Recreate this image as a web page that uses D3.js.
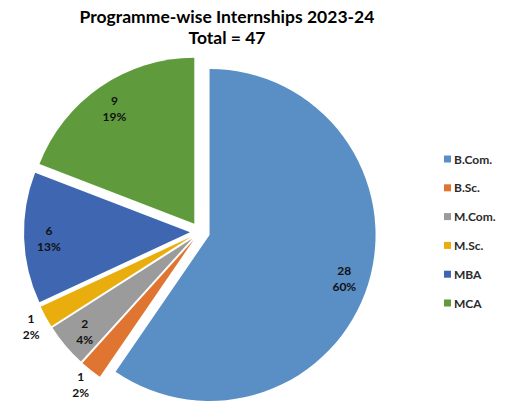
<!DOCTYPE html>
<html><head><meta charset="utf-8">
<script src="https://cdn.jsdelivr.net/npm/d3@7"></script>
<style>body{margin:0;background:#fff;} svg{display:block;}</style>
</head><body>
<svg id="chart" width="506" height="408"></svg>
<script>
const categories = ["B.Com.", "B.Sc.", "M.Com.", "M.Sc.", "MBA", "MCA"];
const values = [28, 1, 2, 1, 6, 9];
const percentLabels = ["60%", "2%", "4%", "2%", "13%", "19%"];
const colors = ["#5A8FC6", "#DF7531", "#9B9B9B", "#E9AE0E", "#3F66B0", "#5F9B3D"];
const titleLines = ["Programme-wise Internships 2023-24", "Total = 47"];

const svg = d3.select("#chart");
const font = "Lato, 'Open Sans', sans-serif";

svg.selectAll("text.title").data(titleLines).join("text")
  .attr("class", "title")
  .attr("x", 227).attr("y", (d, i) => 23 + i * 21)
  .attr("text-anchor", "middle")
  .style("font-family", font).style("font-weight", "bold").style("font-size", "17.5px")
  .attr("fill", "#000").text(d => d);

const cx = 200, cy = 232, r = 166, explode = 10;
const pie = d3.pie().sort(null).value(d => d)(values);
const arc = d3.arc().innerRadius(0).outerRadius(r);

const g = svg.append("g").attr("transform", `translate(${cx},${cy})`);
const mid = d => (d.startAngle + d.endAngle) / 2;

const slices = g.selectAll("g.slice").data(pie).join("g")
  .attr("class", "slice")
  .attr("transform", d => `translate(${explode * Math.sin(mid(d))},${-explode * Math.cos(mid(d))})`);

slices.append("path").attr("d", arc).attr("fill", (d, i) => colors[i]);

slices.each(function(d, i) {
  const frac = d.value / d3.sum(values);
  const lr = frac < 0.03 ? r * 1.1 : r * 0.85;
  const a = mid(d);
  const x = lr * Math.sin(a), y = -lr * Math.cos(a);
  const t = d3.select(this).append("text")
    .attr("text-anchor", "middle")
    .style("font-family", font).style("font-weight", "bold").style("font-size", "12px")
    .attr("fill", "#111");
  t.append("tspan").attr("x", x).attr("y", y - 2).text(d.value);
  t.append("tspan").attr("x", x).attr("y", y + 14).text(percentLabels[i]);
});

const legend = svg.append("g");
const items = legend.selectAll("g").data(categories).join("g")
  .attr("transform", (d, i) => `translate(444,${159 + i * 28.8})`);
items.append("rect").attr("x", 0).attr("y", -3.5).attr("width", 7).attr("height", 7)
  .attr("fill", (d, i) => colors[i]);
items.append("text").attr("x", 10).attr("y", 4.5)
  .style("font-family", font).style("font-weight", "bold").style("font-size", "12px")
  .attr("fill", "#2a2a2a").text(d => d);
</script>
</body></html>
